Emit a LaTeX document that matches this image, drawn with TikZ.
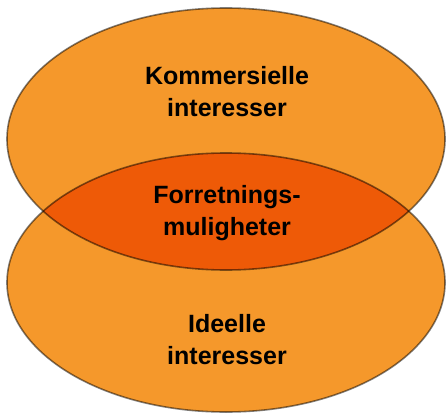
\documentclass[tikz,border=0pt]{standalone}
\usepackage{fontspec}
\setmainfont{Liberation Sans}
\definecolor{lightor}{HTML}{F5982B}
\definecolor{darkor}{HTML}{EE5A07}
\begin{document}
\begin{tikzpicture}[x=1pt,y=-1pt,
  rim/.style={draw=black,draw opacity=0.5,line width=1.6pt},
  lbl/.style={align=center,inner sep=0pt,font=\fontsize{25}{32}\selectfont\bfseries,text=black}]
\useasboundingbox (0,0) rectangle (446,414);
\fill[lightor] (226,139) ellipse [x radius=219, y radius=131];
\fill[lightor] (226,282.5) ellipse [x radius=219, y radius=129.5];
\begin{scope}
  \clip (226,139) ellipse [x radius=219, y radius=131];
  \fill[darkor] (226,282.5) ellipse [x radius=219, y radius=129.5];
\end{scope}
\draw[rim] (226,139) ellipse [x radius=219, y radius=131];
\draw[rim] (226,282.5) ellipse [x radius=219, y radius=129.5];
\node[lbl] (kom) at (227,92) {Kommersielle\\interesser};
\node[lbl] (forr) at (227,212.6) {Forretnings-\\muligheter};
\node[lbl] (ide) at (227,340) {Ideelle\\interesser};
\end{tikzpicture}
\end{document}
